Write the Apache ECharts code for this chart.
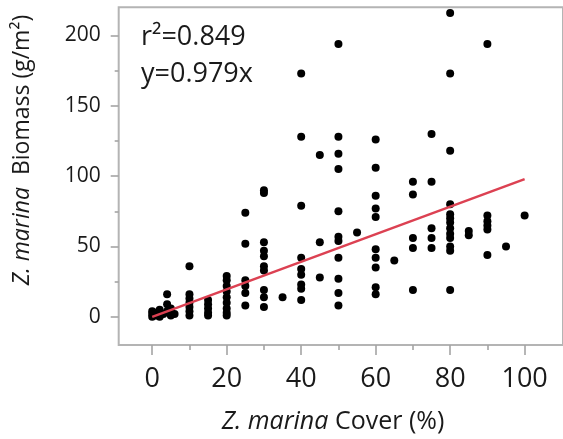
<!DOCTYPE html>
<html>
<head>
<meta charset="utf-8">
<script src="https://cdn.jsdelivr.net/npm/echarts@6/dist/echarts.min.js"></script>
<style>
html,body{margin:0;padding:0;background:#fff;}
#chart{width:563px;height:439px;}
</style>
</head>
<body>
<div id="chart"></div>
<script>
// Per-point data: cover (%) and biomass (g/m2)
var coverValues = [
  0,0,0,1,1,2,2,3,4,4,4,5,5,5,6,
  10,10,10,10,10,10,10,
  15,15,15,15,15,
  20,20,20,20,20,20,20,20,20,
  25,25,25,25,25,25,
  30,30,30,30,30,30,30,30,30,30,
  35,
  40,40,40,40,40,40,40,40,40,
  45,45,45,
  50,50,50,50,50,50,50,50,50,50,50,
  55,
  60,60,60,60,60,60,60,60,60,60,
  65,
  70,70,70,70,70,
  75,75,75,75,75,
  80,80,80,80,80,80,80,80,80,80,80,80,80,
  85,85,
  90,90,90,90,90,90,
  95,
  100
];
var biomassValues = [
  0,2,4,1,3,0,5,2,9,16,4,1,3,6,2,
  36,16,13,10,7,4,1,
  12,9,6,3,1,
  29,26,22,18,14,10,6,3,1,
  74,52,26,22,17,8,
  90,88,53,47,43,36,33,19,14,7,
  14,
  173,128,79,42,34,30,23,20,12,
  115,53,28,
  194,128,116,105,75,57,54,42,27,17,8,
  60,
  126,106,86,77,71,48,42,35,21,16,
  40,
  96,87,56,49,19,
  130,96,63,56,49,
  216,173,118,80,73,70,67,63,59,56,50,47,19,
  61,58,
  194,72,68,65,62,44,
  50,
  72
];
var slope = 0.979;
var fitRange = [0, 100];
var xMajorTicks = [0, 20, 40, 60, 80, 100];
var xMinorTicks = [10, 30, 50, 70, 90];
var yMajorTicks = [0, 50, 100, 150, 200];
var yMinorTicks = [25, 75, 125, 175];
var statsLines = ['r\u00b2=0.849', 'y=0.979x'];
var xTitle = '{i|Z. marina} Cover (%)';
var yTitle = '{i|Z. marina}  Biomass (g/m\u00b2)';

var FONT = '"Open Sans", "Noto Sans", sans-serif';
var points = coverValues.map(function (c, i) { return [c, biomassValues[i]]; });
var fitLine = fitRange.map(function (x) { return [x, slope * x]; });

var xMin = -9, xMax = 110.3, yMin = -20, yMax = 220;
var tickStyle = {color: '#a4a4a4', width: 1.6};

var chart = echarts.init(document.getElementById('chart'), null, {renderer: 'canvas'});
chart.setOption({
  animation: false,
  backgroundColor: '#ffffff',
  grid: {
    left: 118.7, top: 7.3, right: -5, bottom: 94,
    show: true, borderColor: '#b4b4b4', borderWidth: 2, backgroundColor: 'transparent'
  },
  xAxis: [
    {
      type: 'value', min: xMin, max: xMax, position: 'bottom',
      axisLine: {show: false, onZero: false},
      splitLine: {show: false},
      axisTick: {show: true, inside: false, length: 10, customValues: xMajorTicks, lineStyle: tickStyle},
      axisLabel: {show: true, customValues: xMajorTicks, margin: 21, fontSize: 27, color: '#1a1a1a', fontFamily: FONT}
    },
    {
      type: 'value', min: xMin, max: xMax, position: 'bottom', gridIndex: 0,
      axisLine: {show: false, onZero: false}, splitLine: {show: false},
      axisTick: {show: true, inside: false, length: 5, customValues: xMinorTicks, lineStyle: tickStyle},
      axisLabel: {show: false}
    }
  ],
  yAxis: [
    {
      type: 'value', min: yMin, max: yMax, position: 'left',
      axisLine: {show: false, onZero: false},
      splitLine: {show: false},
      axisTick: {show: true, inside: false, length: 8, customValues: yMajorTicks, lineStyle: tickStyle},
      axisLabel: {show: true, customValues: yMajorTicks, margin: 18, fontSize: 21, color: '#1a1a1a', fontFamily: FONT}
    },
    {
      type: 'value', min: yMin, max: yMax, position: 'left', gridIndex: 0,
      axisLine: {show: false, onZero: false}, splitLine: {show: false},
      axisTick: {show: true, inside: false, length: 4, customValues: yMinorTicks, lineStyle: tickStyle},
      axisLabel: {show: false}
    }
  ],
  series: [
    {
      type: 'scatter', xAxisIndex: 0, yAxisIndex: 0,
      data: points, symbol: 'circle', symbolSize: 8,
      itemStyle: {color: '#000000', opacity: 1}, z: 2
    },
    {
      type: 'line', xAxisIndex: 0, yAxisIndex: 0,
      data: fitLine, showSymbol: false, symbol: 'none',
      lineStyle: {color: '#dc4152', width: 2.5}, z: 3
    }
  ],
  graphic: [
    {type: 'text', x: 141, y: 37, style: {text: statsLines[0], fontSize: 27, fontFamily: FONT, fill: '#1a1a1a', align: 'left', verticalAlign: 'middle'}},
    {type: 'text', x: 141, y: 74, style: {text: statsLines[1], fontSize: 27, fontFamily: FONT, fill: '#1a1a1a', align: 'left', verticalAlign: 'middle'}},
    {type: 'text', x: 333, y: 422, style: {text: xTitle, fontSize: 25, fontFamily: FONT, fill: '#1a1a1a', align: 'center', verticalAlign: 'middle',
      rich: {i: {fontStyle: 'italic', fontSize: 25, fontFamily: FONT, fill: '#1a1a1a'}}}},
    {type: 'text', x: 22, y: 150, rotation: Math.PI / 2, style: {text: yTitle, fontSize: 23, fontFamily: FONT, fill: '#1a1a1a', align: 'center', verticalAlign: 'middle',
      rich: {i: {fontStyle: 'italic', fontSize: 23, fontFamily: FONT, fill: '#1a1a1a'}}}}
  ]
});
</script>
</body>
</html>
